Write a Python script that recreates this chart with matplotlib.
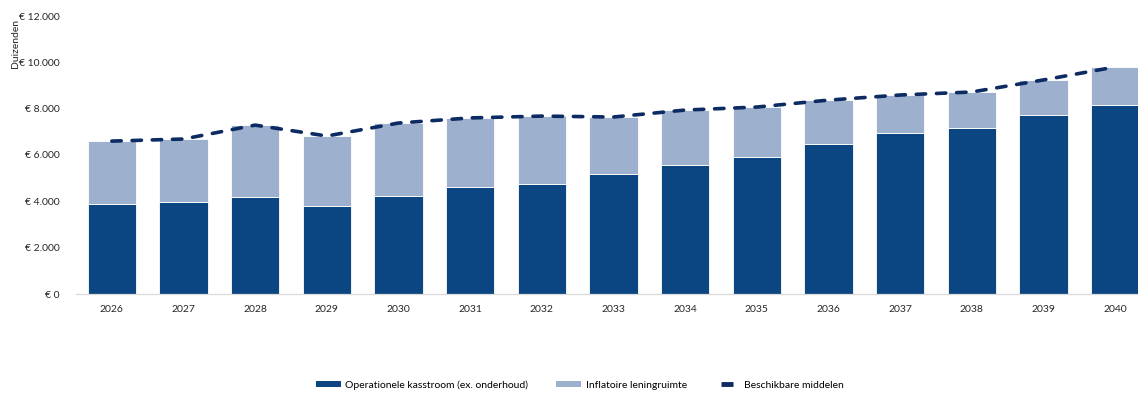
import matplotlib.pyplot as plt
from matplotlib.patches import Patch
from matplotlib.lines import Line2D
from matplotlib.ticker import FuncFormatter
import numpy as np

plt.rcParams['font.family'] = ['Lato', 'DejaVu Sans']

jaren = [str(j) for j in range(2026, 2041)]
# bedragen in duizenden euro's
operationeel = [3900, 3970, 4190, 3800, 4230, 4620, 4750, 5180, 5570, 5910, 6470, 6950, 7160, 7730, 8160]
inflatoir = [2700, 2720, 3100, 3020, 3150, 2980, 2930, 2460, 2370, 2160, 1900, 1640, 1560, 1510, 1640]
beschikbaar = [o + i for o, i in zip(operationeel, inflatoir)]

donker = '#0B4582'
licht = '#9DB0CD'
navy = '#0C2B62'

fig = plt.figure(figsize=(11.38, 3.93), dpi=100)
ax = fig.add_axes([76 / 1138, 99 / 393, (1151 - 76) / 1138, 278 / 393])

x = np.arange(len(jaren))
ax.bar(x, operationeel, width=0.67, color=donker, edgecolor='white', linewidth=0.6)
ax.bar(x, inflatoir, width=0.67, bottom=operationeel, color=licht, edgecolor='white', linewidth=0.6)
ax.plot(x, beschikbaar, color=navy, lw=2.6, linestyle=(0, (2.6, 3.0)),
        dash_capstyle='round', zorder=3)

ax.set_xlim(-0.5, len(jaren) - 0.5)
ax.set_ylim(0, 12000)
ax.set_yticks(range(0, 12001, 2000))
ax.yaxis.set_major_formatter(FuncFormatter(lambda v, p: '€ ' + f'{int(v):,}'.replace(',', '.')))
ax.set_xticks(x)
ax.set_xticklabels(jaren)
ax.tick_params(axis='both', length=0, labelsize=7.5, colors='#262626')
ax.tick_params(axis='y', pad=12)
ax.tick_params(axis='x', pad=8)

for s in ['top', 'right', 'left']:
    ax.spines[s].set_visible(False)
ax.spines['bottom'].set_color('#D9D9D9')
ax.spines['bottom'].set_linewidth(0.9)

fig.text(16 / 1138, 1 - 43 / 393, 'Duizenden', rotation=90, ha='center', va='center',
         fontsize=7.5, color='#262626')

handles = [
    Patch(facecolor=donker, label='Operationele kasstroom (ex. onderhoud)'),
    Patch(facecolor=licht, label='Inflatoire leningruimte'),
    Line2D([], [], ls='none', marker='_', markersize=9, mew=3.5, color=navy, label='Beschikbare middelen'),
]
fig.legend(handles=handles, loc='center', bbox_to_anchor=(580 / 1138, 1 - 385 / 393), ncol=3,
           frameon=False, fontsize=7.5, handlelength=2.4, handleheight=0.6,
           handletextpad=0.4, columnspacing=2.7)

fig.savefig('out.png', dpi=100)
